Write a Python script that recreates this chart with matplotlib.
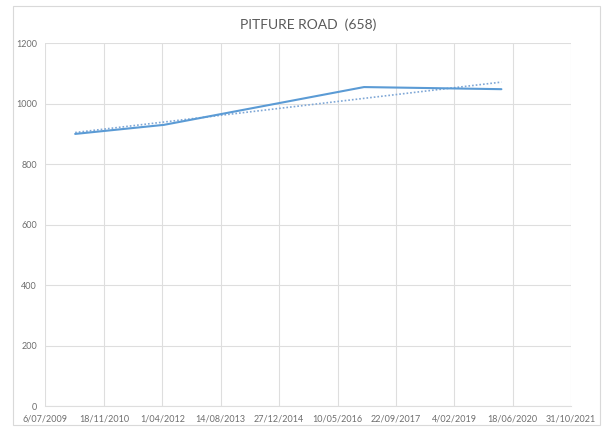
import matplotlib
matplotlib.use("Agg")
import matplotlib.pyplot as plt
import matplotlib.dates as mdates
from matplotlib.patches import Rectangle
import numpy as np
from datetime import datetime

# data
dates = ["2010-03-17", "2012-04-15", "2016-12-23", "2020-03-13"]
values = [900, 930, 1055, 1048]

tick_dates = ["6/07/2009", "18/11/2010", "1/04/2012", "14/08/2013", "27/12/2014",
              "10/05/2016", "22/09/2017", "4/02/2019", "18/06/2020", "31/10/2021"]
y_ticks = [0, 200, 400, 600, 800, 1000, 1200]

BLUE = "#5B9BD5"
GREY = "#6E6E6E"
GRID = "#DEDEDE"

plt.rcParams["font.family"] = ["Lato", "DejaVu Sans"]

x = mdates.date2num([datetime.strptime(d, "%Y-%m-%d") for d in dates])
xt = mdates.date2num([datetime.strptime(d, "%d/%m/%Y") for d in tick_dates])

fig = plt.figure(figsize=(6.05, 4.28), dpi=100)
ax = fig.add_axes([0.0752, 0.0514, 0.8688, 0.8476])

ax.plot(x, values, color=BLUE, linewidth=1.5, solid_capstyle="round", zorder=3)

# linear trendline
k, b = np.polyfit(x, values, 1)
ax.plot(x[[0, -1]], k * x[[0, -1]] + b, color="#7FA7D6", linewidth=1.2,
        linestyle=(0, (1, 1.2)), zorder=2)

ax.set_xlim(xt[0], xt[-1])
ax.set_ylim(0, 1200)
ax.set_xticks(xt)
ax.set_xticklabels(tick_dates)
ax.set_yticks(y_ticks)
ax.grid(True, color=GRID, linewidth=0.8)
ax.set_axisbelow(True)
for s in ["top", "right", "left"]:
    ax.spines[s].set_visible(False)
ax.spines["bottom"].set_color(GRID)
ax.tick_params(length=0, labelsize=6.5, labelcolor=GREY, pad=6)

fig.text(0.509, 0.943, "PITFURE ROAD  (658)", ha="center", va="center",
         fontsize=10, color="#595959")

# chart area border
fig.patches.append(Rectangle((0.022, 0.007), 0.97, 0.979, transform=fig.transFigure,
                             fill=False, edgecolor="#D9D9D9", linewidth=0.8))

fig.savefig("out.png", dpi=100)
